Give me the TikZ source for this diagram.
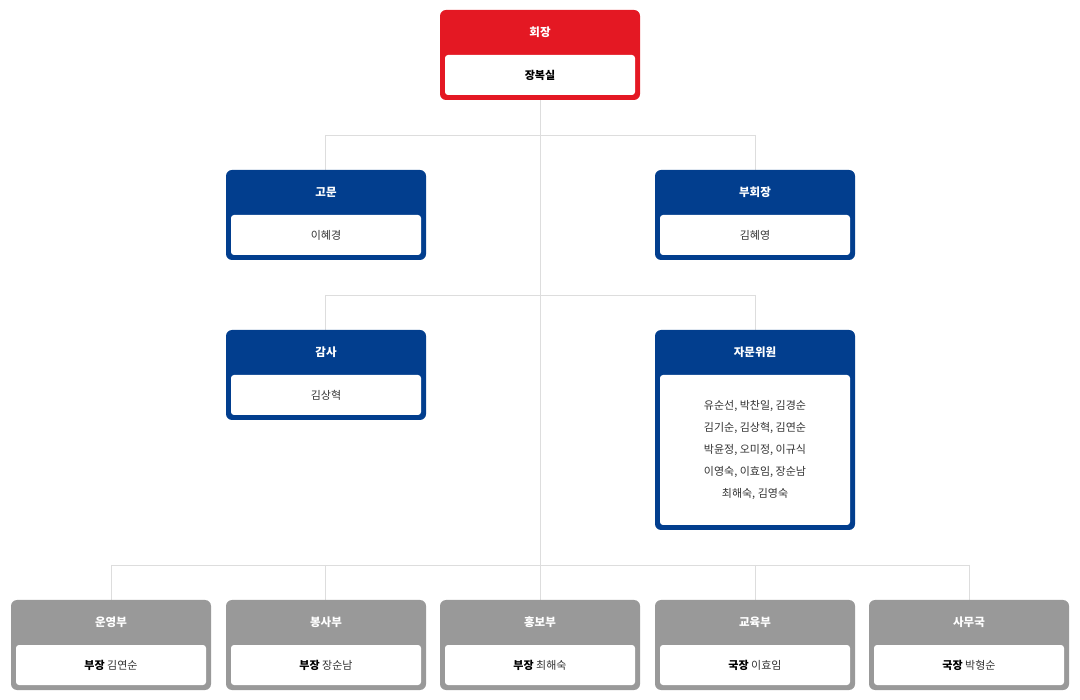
\documentclass[tikz,border=0pt]{standalone}
\usepackage{fontspec}
\setmainfont{Noto Sans CJK KR}
\usetikzlibrary{positioning}
\definecolor{chairred}{HTML}{E41823}
\definecolor{navy}{HTML}{023E8E}
\definecolor{deptgray}{HTML}{999999}
\definecolor{linegray}{HTML}{DDDDDD}
\definecolor{txtgray}{HTML}{333333}
\tikzset{
	frame/.style={rounded corners=6pt},
	inner/.style={fill=white,rounded corners=3pt},
	title/.style={text=white,font=\bfseries\fontsize{11.5pt}{13pt}\selectfont},
	person/.style={text=txtgray,font=\fontsize{11pt}{22pt}\selectfont,align=center},
	link/.style={draw=linegray,line width=0.8pt}
}
% \orgunit{name}{x}{y}{height}{colour}{title}{text}
\newcommand{\orgunit}[7]{
	\fill[frame,#5] (#2,#3) rectangle ++(200,#4);
	\fill[inner] (#2+5,#3+45) rectangle (#2+195,#3+#4-5);
	\node[title] (#1) at (#2+100,#3+22) {#6};
	\node[person] (#1-n) at (#2+100,{#3+(#4+40)/2}) {#7};
}
\begin{document}
\begin{tikzpicture}[x=1pt,y=-1pt]
\useasboundingbox (0,0) rectangle (1080,700);

% connectors first
\coordinate (c1) at (540,100);
\coordinate (c3) at (540,565);
\draw[link] (c1) -- (c3);
\draw[link] (325,135) -- (755,135);
\draw[link] (325,295) -- (755,295);
\draw[link] (111,565) -- (969,565);
\foreach \x/\y/\z in {325/135/170,755/135/170,325/295/330,755/295/330}
	\draw[link] (\x,\y) -- (\x,\z);
\foreach \x in {111,325,540,755,969}
	\draw[link] (\x,565) -- (\x,600);

\orgunit{chair}{440}{10}{90}{chairred}{회장}{\textbf{\textcolor{black}{장복실}}}
\orgunit{adv}{226}{170}{90}{navy}{고문}{이혜경}
\orgunit{vice}{655}{170}{90}{navy}{부회장}{김혜영}
\orgunit{audit}{226}{330}{90}{navy}{감사}{김상혁}
\orgunit{council}{655}{330}{200}{navy}{자문위원}{유순선, 박찬일, 김경순\\김기순, 김상혁, 김연순\\박윤정, 오미정, 이규식\\이영숙, 이효임, 장순남\\최해숙, 김영숙}

\foreach[count=\c] \x/\t/\r/\n in {11/운영부/부장/김연순,226/봉사부/부장/장순남,440/홍보부/부장/최해숙,655/교육부/국장/이효임,869/사무국/국장/박형순}{
	\orgunit{dept\c}{\x}{600}{90}{deptgray}{\t}{\textbf{\textcolor{black}{\r}}\ \n}
}
\end{tikzpicture}
\end{document}
